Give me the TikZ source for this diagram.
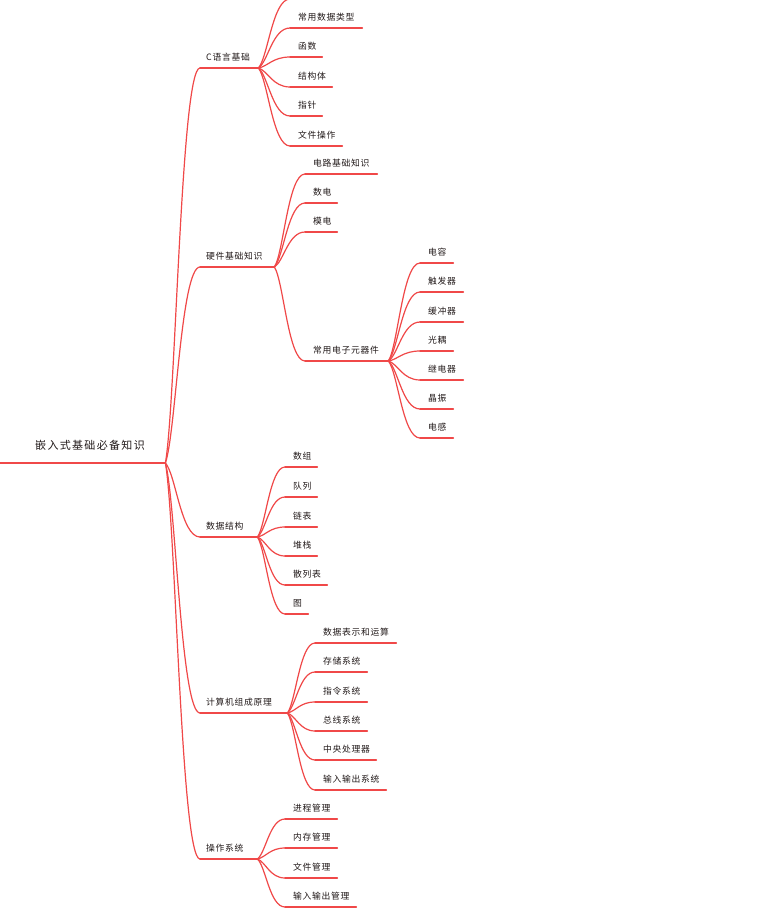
\documentclass[tikz,border=0pt]{standalone}
\usepackage{fontspec}
\newfontfamily\cjk[LetterSpace=8]{Noto Sans CJK SC}
\newfontfamily\cjkroot[LetterSpace=12]{Noto Sans CJK SC}
\usetikzlibrary{calc}
\definecolor{mmred}{RGB}{240,72,72}
\definecolor{mmtext}{RGB}{34,26,26}
% name, x of underline start, y of underline, width, left pad, text
\newcommand\tp[6]{\node[topic] (#1) at (#2,#3) {\makebox[#4pt][l]{\hspace*{#5pt}#6}};
  \draw[line] (#1.south west) -- (#1.south east);}
\newcommand\conn[2]{\draw[line] let \p1=(#1), \p2=(#2) in
  (\p1) .. controls ({\x1+0.3*(\x2-\x1)},{\y1+0.15*(\y2-\y1)}) and ({\x1+0.45*(\x2-\x1)},\y2) .. (\p2);}
\begin{document}
\begin{tikzpicture}[x=1pt,y=-1pt,
  line/.style={draw=mmred, line width=1.2pt, line cap=round},
  topic/.style={anchor=south west, inner sep=0pt, text height=10pt, text depth=7.8pt,
    text=mmtext, font=\cjk\fontsize{8.8}{10}\selectfont},
  roottopic/.style={topic, text height=12pt, text depth=13.5pt, font=\cjkroot\fontsize{11}{12}\selectfont}]
\fill[white] (0,0) rectangle (770,919);
\useasboundingbox (0,0) rectangle (770,919);
\clip (0,0) rectangle (770,919);

% root
\node[roottopic] (root) at (0,463) {\makebox[165pt][l]{\hspace*{35pt}嵌入式基础必备知识}};
\draw[line] (root.south west) -- (root.south east);

% level 1
\tp{c}{200}{68}{58}{6}{C语言基础}
\tp{hw}{200}{267}{74}{6}{硬件基础知识}
\tp{ds}{200}{537}{57}{6}{数据结构}
\tp{co}{200}{713}{87}{6}{计算机组成原理}
\tp{os}{200}{859}{57}{6}{操作系统}
\foreach \k in {c,hw,ds,co,os}{\conn{root.south east}{\k.south west}}

% C children
\coordinate (c0) at (290,-1);
\conn{c.south east}{c0}
\tp{c1}{290}{28}{72}{8}{常用数据类型}
\tp{c2}{290}{57}{32}{8}{函数}
\tp{c3}{290}{87}{42}{8}{结构体}
\tp{c4}{290}{116}{32}{8}{指针}
\tp{c5}{290}{146}{52}{8}{文件操作}
\foreach \k in {c1,c2,c3,c4,c5}{\conn{c.south east}{\k.south west}}

% hardware children
\tp{h1}{305}{174}{72}{8}{电路基础知识}
\tp{h2}{305}{203}{32}{8}{数电}
\tp{h3}{305}{232}{32}{8}{模电}
\tp{h4}{305}{361}{83}{8}{常用电子元器件}
\foreach \k in {h1,h2,h3,h4}{\conn{hw.south east}{\k.south west}}

% components
\tp{e1}{420}{263}{33}{8}{电容}
\tp{e2}{420}{292}{43}{8}{触发器}
\tp{e3}{420}{322}{43}{8}{缓冲器}
\tp{e4}{420}{351}{33}{8}{光耦}
\tp{e5}{420}{380}{43}{8}{继电器}
\tp{e6}{420}{409}{33}{8}{晶振}
\tp{e7}{420}{438}{33}{8}{电感}
\foreach \k in {e1,e2,e3,e4,e5,e6,e7}{\conn{h4.south east}{\k.south west}}

% data structures
\tp{d1}{285}{467}{32}{8}{数组}
\tp{d2}{285}{497}{32}{8}{队列}
\tp{d3}{285}{527}{32}{8}{链表}
\tp{d4}{285}{556}{32}{8}{堆栈}
\tp{d5}{285}{585}{42}{8}{散列表}
\tp{d6}{285}{614}{23}{8}{图}
\foreach \k in {d1,d2,d3,d4,d5,d6}{\conn{ds.south east}{\k.south west}}

% computer organization
\tp{o1}{315}{643}{81}{8}{数据表示和运算}
\tp{o2}{315}{672}{52}{8}{存储系统}
\tp{o3}{315}{702}{52}{8}{指令系统}
\tp{o4}{315}{731}{52}{8}{总线系统}
\tp{o5}{315}{760}{61}{8}{中央处理器}
\tp{o6}{315}{790}{71}{8}{输入输出系统}
\foreach \k in {o1,o2,o3,o4,o5,o6}{\conn{co.south east}{\k.south west}}

% operating systems
\tp{s1}{285}{819}{52}{8}{进程管理}
\tp{s2}{285}{848}{52}{8}{内存管理}
\tp{s3}{285}{878}{52}{8}{文件管理}
\tp{s4}{285}{907}{71}{8}{输入输出管理}
\foreach \k in {s1,s2,s3,s4}{\conn{os.south east}{\k.south west}}
\end{tikzpicture}
\end{document}
